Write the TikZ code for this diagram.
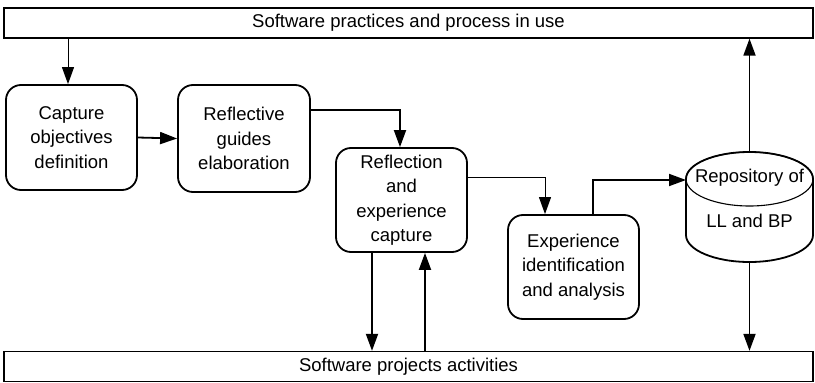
\documentclass[tikz,border=0pt]{standalone}
\usepackage{fontspec}
\setmainfont{Liberation Sans}
\usetikzlibrary{arrows.meta,calc}
\begin{document}
\begin{tikzpicture}[x=1pt,y=-1pt,
  every node/.style={font=\fontsize{18.5}{24.5}\selectfont, align=center, inner sep=0pt},
  bar/.style={draw, line width=1.3pt, minimum width=809pt, minimum height=30pt},
  proc/.style={draw, line width=1.8pt, rounded corners=15pt, minimum width=131pt, minimum height=105pt},
  tip/.style={-{Triangle[length=17pt,width=12pt]}},
  thk/.style={line width=1.8pt},
  thn/.style={line width=1pt}]
\useasboundingbox (0,0) rectangle (815,383);
\node[bar] (top) at (408.5,23) {Software practices and process in use};
\node[bar] (bot) at (408.5,366.5) {Software projects activities};
\node[proc] (cap) at (71.5,137.5) {Capture\\objectives\\definition};
\node[proc, minimum width=132pt, minimum height=107pt] (rg) at (244,138.5) {Reflective\\guides\\elaboration};
\node[proc, minimum height=104pt] (refl) at (401.5,200) {Reflection\\and\\experience\\capture};
\node[proc, minimum height=104pt] (exp) at (573.5,267) {Experience\\identification\\and analysis};
% repository cylinder
\node[minimum width=127pt, minimum height=110pt] (repo) at (749.5,207) {};
\draw[line width=1.8pt] (686,179) -- (686,235) arc[start angle=180, end angle=360, x radius=63.5, y radius=-27] -- (813,179) arc[start angle=0, end angle=180, x radius=63.5, y radius=-27];
\draw[line width=1.1pt] (749.5,179) ellipse[x radius=63.5, y radius=27];
\node (repotxt1) at (749.5,178) {Repository of};
\node (repotxt2) at (749.5,221) {LL and BP};
\coordinate (repoL) at (686,180);
% connectors
\draw[thn,tip] ([xshift=-3.5pt]cap.north |- top.south) -- ([xshift=-3.5pt]cap.north);
\draw[thk,tip] (cap.east) -- (rg.west);
\draw[thk,tip] ([yshift=28.5pt]rg.east) -| ([xshift=-1.5pt]refl.north);
\draw[thn,tip] ([yshift=23pt]refl.east) -| ([xshift=-28.5pt]exp.north);
\draw[thk,tip] ([xshift=19.5pt]exp.north) |- (repoL);
\draw[thk,tip] (repo.north) -- (repo.north |- top.south);
\draw[thk,tip] (repo.south) -- (repo.south |- bot.north);
\draw[thk,tip] ([xshift=-29.5pt]refl.south) -- ([xshift=-29.5pt]refl.south |- bot.north);
\draw[thk,tip] ([xshift=23.5pt]refl.south |- bot.north) -- ([xshift=23.5pt]refl.south);
\end{tikzpicture}
\end{document}
